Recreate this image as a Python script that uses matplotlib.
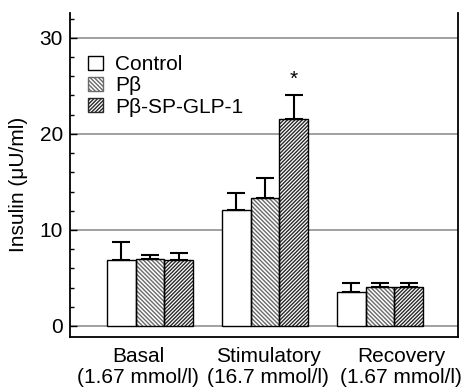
import numpy as np
import matplotlib
matplotlib.use("Agg")
import matplotlib.pyplot as plt
from matplotlib.ticker import MultipleLocator

plt.rcParams['font.family'] = ['Liberation Sans', 'DejaVu Sans']

groups = ['Basal\n(1.67 mmol/l)', 'Stimulatory\n(16.7 mmol/l)', 'Recovery\n(1.67 mmol/l)']
series = ['Control', 'P\u03b2', 'P\u03b2-SP-GLP-1']
control = [6.9, 12.1, 3.5]
control_err = [1.8, 1.8, 0.95]
pbeta = [7.0, 13.3, 4.1]
pbeta_err = [0.4, 2.1, 0.4]
glp = [6.9, 21.6, 4.1]
glp_err = [0.75, 2.4, 0.4]

fig = plt.figure(figsize=(4.65, 3.91), dpi=100)
ax = fig.add_axes([0.1505, 0.138, 0.8345, 0.829])

x = np.arange(len(groups))
w = 0.25
hatches = ['', '\\' * 8, '/' * 9]
hatch_cols = ['black', '#6a6a6a', '#2a2a2a']
data = [(control, control_err), (pbeta, pbeta_err), (glp, glp_err)]

plt.rcParams['hatch.linewidth'] = 1.0
for i, (vals, errs) in enumerate(data):
    pos = x + (i - 1) * w
    ax.bar(pos, vals, w, color='white', edgecolor=hatch_cols[i], hatch=hatches[i],
           linewidth=0, zorder=2, label=series[i])
    ax.bar(pos, vals, w, fill=False, edgecolor='black', linewidth=1.0, zorder=3)
    ax.errorbar(pos, vals, yerr=[np.zeros(len(vals)), errs], fmt='none',
                ecolor='black', elinewidth=1.5, capsize=6.5, capthick=1.5, zorder=3)

ax.text(x[1] + w, 25.7, '*', ha='center', va='center', fontsize=15)

ax.set_xlim(-0.696, 2.678)
ax.set_ylim(-1.15, 32.6)
ax.set_yticks([0, 10, 20, 30])
ax.yaxis.set_minor_locator(MultipleLocator(2))
ax.grid(axis='y', which='major', color='#999999', linewidth=1.3, zorder=0)
# group labels sit a little spread out under the bars
ax.set_xticks(x + np.array([-0.104, 0.026, 0.183]))
ax.set_xticklabels(groups, fontsize=15, linespacing=1.15)
ax.tick_params(axis='x', length=0, pad=7)
ax.tick_params(axis='y', which='major', direction='in', length=5, labelsize=15, width=1, pad=5)
ax.tick_params(axis='y', which='minor', direction='in', length=3, width=1)
ax.set_ylabel('Insulin (\u03bcU/ml)', fontsize=15)
ax.yaxis.set_label_coords(-0.108, 0.47)
ax.spines['top'].set_visible(False)
for s in ['left', 'right', 'bottom']:
    ax.spines[s].set_linewidth(1.3)

handles, labels = ax.get_legend_handles_labels()
leg = ax.legend(handles[:3], labels[:3], loc='upper left', bbox_to_anchor=(0.046, 0.869),
                frameon=False, fontsize=15, handlelength=0.72, handleheight=0.67,
                handletextpad=0.6, labelspacing=0.1, borderaxespad=0, borderpad=0)
for p in leg.get_patches():
    p.set_linewidth(1.0)

fig.savefig('out.png', dpi=100)
